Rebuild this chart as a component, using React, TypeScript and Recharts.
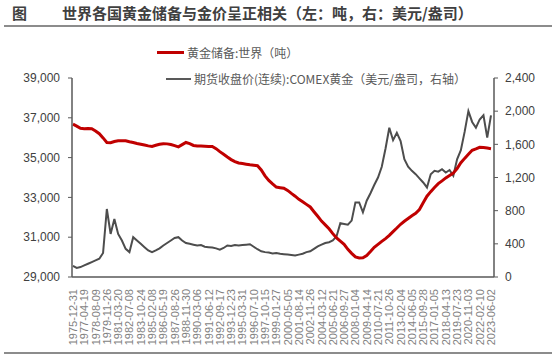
import React from 'react';
import { LineChart, Line, XAxis, YAxis, CartesianGrid } from 'recharts';

const tickLabels = [
  '1975-12-31','1977-04-19','1978-08-09','1979-11-26','1981-03-20','1982-07-08','1983-10-24','1985-02-08',
  '1986-05-19','1987-08-26','1988-11-30','1990-03-06','1991-06-12','1992-09-17','1993-12-23','1995-03-31',
  '1996-07-10','1997-10-15','1999-01-27','2000-05-05','2001-08-14','2002-11-26','2004-03-12','2005-06-21',
  '2006-09-27','2008-01-04','2009-04-14','2010-07-21','2011-10-26','2013-02-04','2014-06-05','2015-09-28',
  '2017-01-05','2018-04-13','2019-07-23','2020-11-03','2022-02-10','2023-06-02',
];

// points per label interval
const STEP = 3;

const reserves = [
  36680,36580,36470,36450,36460,36450,36340,36200,35990,35760,35750,35810,35850,35850,35850,35800,
  35760,35710,35670,35630,35590,35560,35620,35670,35700,35690,35660,35600,35540,35650,35760,35700,
  35610,35580,35580,35570,35560,35560,35450,35300,35170,35030,34900,34800,34730,34700,34670,34640,
  34620,34590,34380,34080,33850,33680,33520,33490,33460,33350,33200,33060,32900,32780,32650,32520,
  32280,32050,31810,31620,31420,31180,30960,30800,30640,30390,30190,30010,29960,29970,30080,30280,
  30490,30640,30790,30930,31090,31280,31460,31650,31800,31940,32080,32200,32390,32730,33060,33290,
  33500,33690,33830,33980,34100,34220,34450,34740,34960,35170,35370,35440,35520,35510,35480,35450,
];

const goldPrice = [
  135,110,120,140,160,180,200,220,290,820,520,700,520,440,340,300,
  480,440,400,360,320,300,320,345,380,410,440,470,480,440,410,400,
  390,380,385,365,360,355,345,330,350,380,375,385,380,385,390,395,
  365,335,310,300,295,285,290,280,275,270,265,260,270,280,300,310,
  340,370,390,410,420,440,490,650,640,630,680,900,900,780,920,1010,
  1110,1200,1330,1550,1800,1650,1740,1640,1420,1330,1280,1240,1190,1140,1080,1240,
  1280,1270,1300,1260,1290,1220,1420,1530,1750,2000,1870,1800,1900,1950,1680,1950,
];

const leftTicks = [29000, 31000, 33000, 35000, 37000, 39000];
const rightTicks = [0, 400, 800, 1200, 1600, 2000, 2400];

const data = reserves.map((r, i) => ({ i, reserve: r, gold: goldPrice[i] }));
const xTicks = tickLabels.map((_, k) => k * STEP);

const fmt = (v: number) => v.toLocaleString('en-US');

const XTick = (props: any) => {
  const { x, y, payload } = props;
  const label = tickLabels[Math.round(payload.value / STEP)];
  return (
    <text
      x={0}
      y={0}
      transform={`translate(${x + 4},${y + 4}) rotate(-90)`}
      textAnchor="end"
      fontSize={11}
      fill="#7f7f7f"
      fontFamily="'Liberation Sans', Arial, sans-serif"
    >
      {label}
    </text>
  );
};

const cjk = "'Noto Sans CJK SC', 'Noto Sans', sans-serif";

export default function App() {
  return (
    <div style={{ position: 'absolute', left: 0, top: 0, width: 554, height: 358, background: '#fff', overflow: 'hidden' }}>
      <div style={{ position: 'absolute', left: 12, top: 3, fontFamily: cjk, fontWeight: 700, fontSize: 15, color: '#404040', lineHeight: '20px' }}>图</div>
      <div style={{ position: 'absolute', left: 62, top: 3, fontFamily: cjk, fontWeight: 700, fontSize: 15, color: '#404040', lineHeight: '20px', whiteSpace: 'nowrap' }}>
        世界各国黄金储备与金价呈正相关（左：吨，右：美元/盎司）
      </div>
      <div style={{ position: 'absolute', left: 4, top: 25, width: 548, height: 2, background: '#8c8c8c' }} />
      <div style={{ position: 'absolute', left: 4, top: 352, width: 548, height: 2, background: '#8c8c8c' }} />

      <div style={{ position: 'absolute', left: 157, top: 44, display: 'flex', alignItems: 'center', fontFamily: cjk, fontSize: 12, color: '#595959', whiteSpace: 'nowrap' }}>
        <span style={{ display: 'inline-block', width: 27, height: 3, background: '#c00000', marginRight: 3 }} />
        黄金储备:世界（吨）
      </div>
      <div style={{ position: 'absolute', left: 166, top: 70, display: 'flex', alignItems: 'center', fontFamily: cjk, fontSize: 12, color: '#595959', whiteSpace: 'nowrap' }}>
        <span style={{ display: 'inline-block', width: 25, height: 2, background: '#595959', marginRight: 3 }} />
        期货收盘价(连续):COMEX黄金（美元/盎司，右轴）
      </div>

      <div style={{ position: 'absolute', left: 0, top: 0 }}>
        <LineChart width={554} height={358} data={data} margin={{ top: 78, right: 0, bottom: 0, left: 0 }}>
          <XAxis
            dataKey="i"
            type="number"
            domain={[-0.25, 111.8]}
            ticks={xTicks}
            interval={0}
            tick={<XTick />}
            tickLine={false}
            axisLine={{ stroke: '#595959', strokeWidth: 1.5 }}
            height={81}
          />
          <YAxis
            yAxisId="left"
            orientation="left"
            domain={[29000, 39000]}
            ticks={leftTicks}
            tickFormatter={fmt}
            width={72}
            tickSize={4}
            tickMargin={8}
            axisLine={{ stroke: '#595959', strokeWidth: 1.5 }}
            tickLine={{ stroke: '#595959' }}
            tick={{ fontSize: 12, fill: '#404040', fontFamily: "'Liberation Sans', Arial, sans-serif" }}
          />
          <YAxis
            yAxisId="right"
            orientation="right"
            domain={[0, 2400]}
            ticks={rightTicks}
            tickFormatter={fmt}
            width={60}
            tickSize={4}
            tickMargin={7}
            axisLine={{ stroke: '#595959', strokeWidth: 1.5 }}
            tickLine={{ stroke: '#595959' }}
            tick={{ fontSize: 12, fill: '#404040', fontFamily: "'Liberation Sans', Arial, sans-serif", textAnchor: 'start' }}
          />
          <Line
            yAxisId="right"
            dataKey="gold"
            stroke="#4d4d4d"
            strokeWidth={2}
            dot={false}
            type="linear"
            isAnimationActive={false}
          />
          <Line
            yAxisId="left"
            dataKey="reserve"
            stroke="#c00000"
            strokeWidth={3}
            dot={false}
            type="linear"
            isAnimationActive={false}
          />
        </LineChart>
      </div>
    </div>
  );
}
